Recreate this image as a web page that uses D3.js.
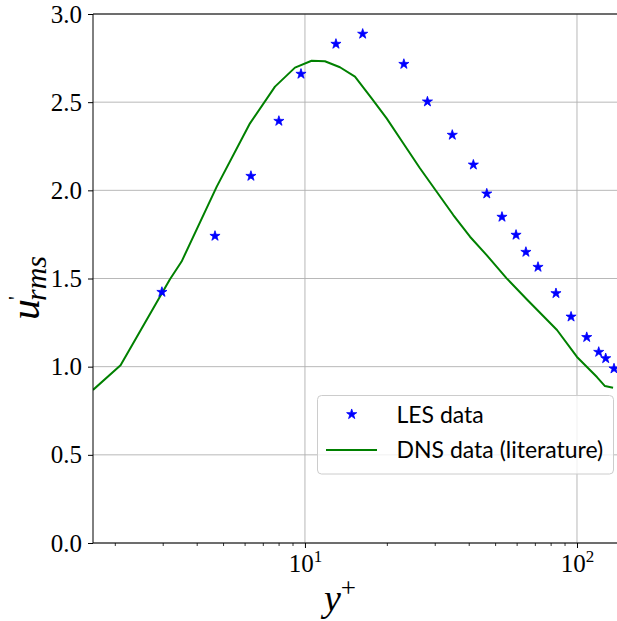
<!DOCTYPE html>
<html>
<head>
<meta charset="utf-8">
<script src="https://cdn.jsdelivr.net/npm/d3@7"></script>
<style>
  html, body { margin: 0; padding: 0; background: #fff; }
  svg { display: block; }
</style>
</head>
<body>
<div id="chart"></div>
<script>
// ---- data ----
const lesX = [2.98, 4.67, 6.33, 8.02, 9.67, 13.0, 16.3, 23.1, 28.2, 34.8, 41.6, 46.6, 53.0, 59.7, 64.9, 71.9, 83.7, 95.1, 108.6, 120.2, 127.5, 136.8];
const lesY = [1.423, 1.741, 2.081, 2.393, 2.66, 2.83, 2.887, 2.716, 2.503, 2.314, 2.145, 1.981, 1.849, 1.747, 1.650, 1.565, 1.416, 1.283, 1.167, 1.083, 1.047, 0.989];

const dnsX = [1.663, 2.10, 3.19, 3.52, 4.74, 6.28, 7.76, 9.19, 10.58, 11.84, 13.45, 15.27, 17.59, 19.97, 22.98, 26.47, 30.50, 35.10, 40.43, 46.56, 55.14, 65.34, 84.43, 100, 118.4, 126.7, 135.7];
const dnsY = [0.868, 1.008, 1.496, 1.596, 2.021, 2.380, 2.588, 2.696, 2.735, 2.732, 2.698, 2.645, 2.522, 2.408, 2.267, 2.125, 1.992, 1.860, 1.737, 1.633, 1.501, 1.382, 1.208, 1.055, 0.941, 0.890, 0.881];

const xDomain = [1.663, 142.7];
const yDomain = [0, 3];
const yTicks = [0, 0.5, 1.0, 1.5, 2.0, 2.5, 3.0];
const xMajorTicks = [10, 100];
const xMinorTicks = [2, 3, 4, 5, 6, 7, 8, 9, 20, 30, 40, 50, 60, 70, 80, 90];
const legendLabels = ["LES data", "DNS data (literature)"];

// ---- layout ----
const W = 617, H = 621;
const L = 93, R = 619, T = 14, B = 543;

const svg = d3.select("#chart").append("svg").attr("width", W).attr("height", H);

const x = d3.scaleLog().domain(xDomain).range([L, R]);
const y = d3.scaleLinear().domain(yDomain).range([B, T]);

svg.append("defs").append("clipPath").attr("id", "clip")
  .append("rect").attr("x", L).attr("y", T).attr("width", R - L).attr("height", B - T);

// grid
const grid = svg.append("g");
grid.selectAll("line.h").data(yTicks).join("line")
  .attr("x1", L).attr("x2", R).attr("y1", d => y(d)).attr("y2", d => y(d))
  .attr("stroke", "#b0b0b0").attr("stroke-width", 0.9);
grid.selectAll("line.v").data(xMajorTicks).join("line")
  .attr("y1", T).attr("y2", B).attr("x1", d => x(d)).attr("x2", d => x(d))
  .attr("stroke", "#b0b0b0").attr("stroke-width", 0.9);

// data
const plot = svg.append("g").attr("clip-path", "url(#clip)");
const dns = dnsX.map((d, i) => [d, dnsY[i]]);
plot.append("path").datum(dns)
  .attr("fill", "none").attr("stroke", "#008000").attr("stroke-width", 2)
  .attr("stroke-linejoin", "round")
  .attr("d", d3.line().x(d => x(d[0])).y(d => y(d[1])));

const star = d3.symbol().type(d3.symbolStar).size(32);
plot.selectAll("path.les").data(lesX.map((d, i) => [d, lesY[i]])).join("path")
  .attr("class", "les")
  .attr("transform", d => `translate(${x(d[0])},${y(d[1])})`)
  .attr("d", star).attr("fill", "#0000ff").attr("stroke", "#0000ff").attr("stroke-width", 0.8);

// axes
const serif = "'Liberation Serif', 'DejaVu Serif', serif";
const yAxis = svg.append("g").attr("transform", `translate(${L},0)`)
  .call(d3.axisLeft(y).tickValues(yTicks).tickFormat(d3.format(".1f")).tickSize(5).tickPadding(6));
yAxis.select(".domain").remove();
yAxis.selectAll("text").attr("font-family", serif).attr("font-size", 25).attr("fill", "#000");
yAxis.selectAll("line").attr("stroke", "#000").attr("stroke-width", 1);

const xAxis = svg.append("g").attr("transform", `translate(0,${B})`)
  .call(d3.axisBottom(x).tickValues(xMajorTicks).tickFormat("").tickSize(5));
xAxis.select(".domain").remove();
xAxis.selectAll("line").attr("stroke", "#000").attr("stroke-width", 1);
xAxis.selectAll(".tick").each(function(d) {
  const t = d3.select(this).append("text")
    .attr("y", 29).attr("fill", "#000").attr("font-family", serif).attr("font-size", 25)
    .attr("text-anchor", "middle").attr("dy", 0);
  t.append("tspan").text("10");
  t.append("tspan").attr("dy", -10).attr("font-size", 17).text(String(Math.round(Math.log10(d))));
});
const xMinor = svg.append("g").attr("transform", `translate(0,${B})`)
  .call(d3.axisBottom(x).tickValues(xMinorTicks).tickFormat("").tickSize(3));
xMinor.select(".domain").remove();
xMinor.selectAll("line").attr("stroke", "#000").attr("stroke-width", 0.8);

// spines (right spine falls outside the cropped figure)
svg.append("line").attr("x1", L).attr("x2", L).attr("y1", T).attr("y2", B).attr("stroke", "#000").attr("stroke-width", 1);
svg.append("line").attr("x1", L).attr("x2", R).attr("y1", B).attr("y2", B).attr("stroke", "#000").attr("stroke-width", 1);
svg.append("line").attr("x1", L).attr("x2", R).attr("y1", T).attr("y2", T).attr("stroke", "#000").attr("stroke-width", 1);

// axis labels
const xl = svg.append("text").attr("x", 340).attr("y", 611).attr("font-family", serif)
  .attr("font-size", 38).attr("font-style", "italic").attr("text-anchor", "middle");
xl.append("tspan").text("y");
xl.append("tspan").attr("dy", -14).attr("font-size", 27).attr("font-style", "normal").text("+");

const yl = svg.append("text").attr("transform", "translate(39,288) rotate(-90)")
  .attr("font-family", serif).attr("font-size", 42).attr("font-style", "italic").attr("text-anchor", "middle");
yl.append("tspan").text("u");
yl.append("tspan").attr("dy", -16).attr("dx", -1).attr("font-size", 22).attr("font-style", "normal").text("'");
yl.append("tspan").attr("dy", 23).attr("dx", -5).attr("font-size", 30).text("rms");

// legend
const lg = svg.append("g");
lg.append("rect").attr("x", 317.5).attr("y", 395.5).attr("width", 296).attr("height", 78.5)
  .attr("rx", 4).attr("fill", "#fff").attr("fill-opacity", 0.8).attr("stroke", "#cccccc").attr("stroke-width", 1);
lg.append("path").attr("transform", "translate(351.7,414.3)").attr("d", star)
  .attr("fill", "#0000ff").attr("stroke", "#0000ff").attr("stroke-width", 0.8);
lg.append("line").attr("x1", 326).attr("x2", 377).attr("y1", 450).attr("y2", 450)
  .attr("stroke", "#008000").attr("stroke-width", 2);
const sans = "Lato, 'Open Sans', sans-serif";
lg.append("text").attr("x", 396.5).attr("y", 423).attr("font-family", sans).attr("font-size", 23).text(legendLabels[0]);
lg.append("text").attr("x", 396.5).attr("y", 458).attr("font-family", sans).attr("font-size", 23).text(legendLabels[1]);
</script>
</body>
</html>
